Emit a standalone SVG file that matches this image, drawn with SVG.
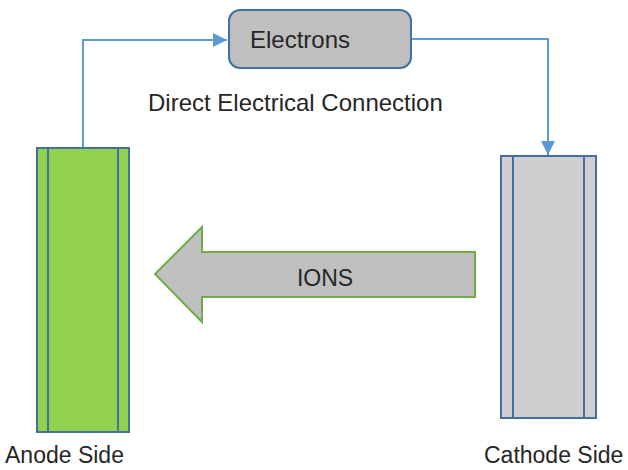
<svg xmlns="http://www.w3.org/2000/svg" width="628" height="470" viewBox="0 0 628 470">
<style>
text{font-family:"Liberation Sans",Arial,sans-serif;fill:#262626;font-size:23px}
.big{font-size:24px}
.conn{fill:none;stroke:#5B9BD5;stroke-width:2}
.plate{stroke:#41719C;stroke-width:2}
</style>
<defs>
<marker id="ah" viewBox="0 0 10 10" refX="10" refY="5" markerWidth="7" markerHeight="7" markerUnits="strokeWidth" orient="auto">
<path d="M0,0 L10,5 L0,10 z" fill="#5B9BD5"/>
</marker>
</defs>
<rect width="628" height="470" fill="#fff"/>
<g id="connectors">
<path class="conn" d="M83,148 V40 H227" marker-end="url(#ah)"/>
<path class="conn" d="M411,39 H548 V155" marker-end="url(#ah)"/>
<text class="big" x="148" y="111">Direct Electrical Connection</text>
</g>
<g id="electrons">
<rect x="229" y="10" width="182" height="58" rx="11" fill="#BFBFBF" stroke="#41719C" stroke-width="2"/>
<text class="big" x="250" y="48">Electrons</text>
</g>
<g id="anode">
<rect class="plate" x="37" y="148" width="92" height="284" fill="#92D050"/>
<line class="plate" x1="48" y1="148" x2="48" y2="432"/>
<line class="plate" x1="118" y1="148" x2="118" y2="432"/>
<text x="5" y="463">Anode Side</text>
</g>
<g id="cathode">
<rect class="plate" x="501" y="156" width="95" height="262" fill="#D0CECE"/>
<line class="plate" x1="513" y1="156" x2="513" y2="418"/>
<line class="plate" x1="584" y1="156" x2="584" y2="418"/>
<text x="484" y="463">Cathode Side</text>
</g>
<g id="ions">
<path d="M155,274 L202,227 V252 H475 V297 H202 V322 Z" fill="#BFBFBF" stroke="#70AD47" stroke-width="2"/>
<text x="325" y="286" text-anchor="middle">IONS</text>
</g>
</svg>
